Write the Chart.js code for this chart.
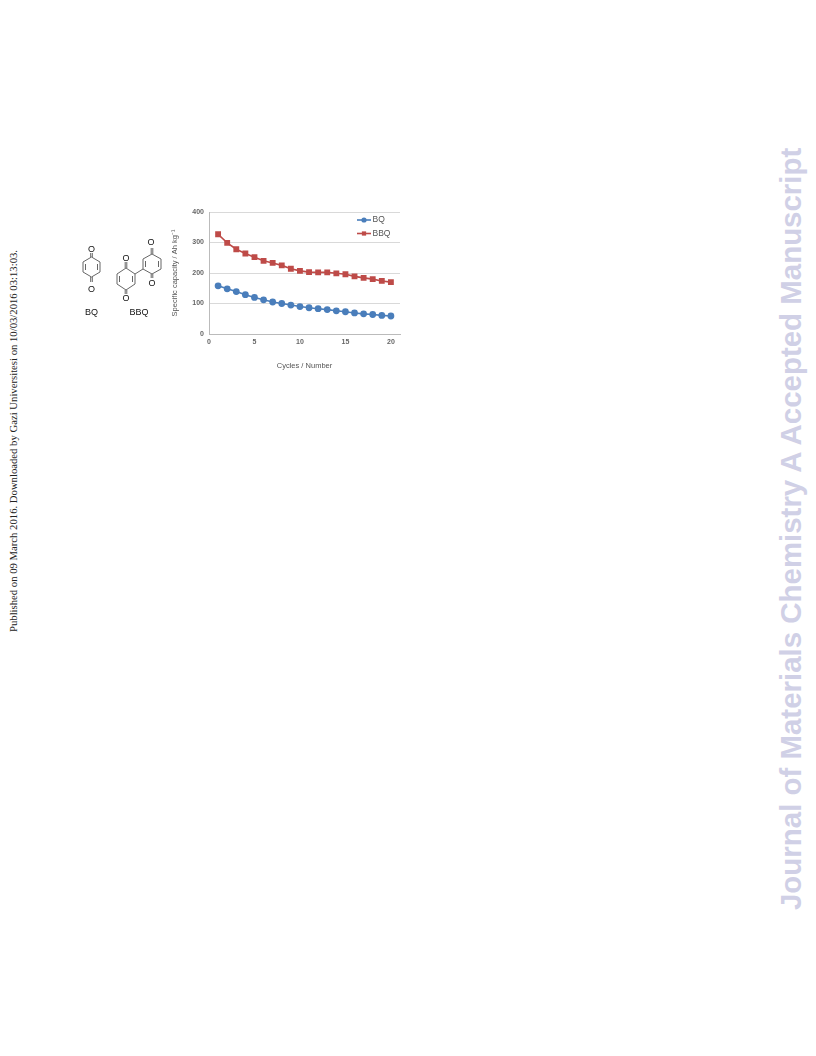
<!DOCTYPE html>
<html>
<head>
<meta charset="utf-8">
<script src="https://cdn.jsdelivr.net/npm/chart.js@4"></script>
<style>
  html, body { margin: 0; padding: 0; background: #fff; }
  body { position: relative; width: 816px; height: 1056px; overflow: hidden; }
  #wrap { position: absolute; left: 170px; top: 200px; width: 240px; height: 170px; filter: blur(0.35px); }
  #capacityChart { display: block; }
  .side { position: absolute; white-space: nowrap; transform-origin: 0 0; transform: rotate(-90deg); }
  #published { left: 7px; top: 632px; font: 10.7px "Liberation Serif", serif; color: #222; }
  #journal { left: 774px; top: 910px; font: bold 29.45px "Liberation Sans", sans-serif; color: #d0d0e6; }
  #mols { position: absolute; left: 70px; top: 230px; filter: blur(0.3px); }
  #mols path, #mols line { fill: none; stroke: #666; stroke-width: 1; }
  #mols text { font: 9px "Liberation Sans", sans-serif; fill: #111; text-anchor: middle; }
</style>
</head>
<body>
<div class="side" id="published">Published on 09 March 2016. Downloaded by Gazi Universitesi on 10/03/2016 03:13:03.</div>
<div class="side" id="journal">Journal of Materials Chemistry A Accepted Manuscript</div>

<svg id="mols" width="100" height="90">
  <path d="M21.5 27 L30 32 V42 L21.5 47 L13 42 V32 Z"/>
  <line x1="27.5" y1="34" x2="27.5" y2="40"/>
  <line x1="15.5" y1="34" x2="15.5" y2="40"/>
  <line x1="20.7" y1="23" x2="20.7" y2="27"/><line x1="22.3" y1="23" x2="22.3" y2="27"/>
  <line x1="20.7" y1="47" x2="20.7" y2="52"/><line x1="22.3" y1="47" x2="22.3" y2="52"/>
  <text x="21.5" y="22">O</text>
  <text x="21.5" y="62">O</text>
  <path d="M56 38 L65 44 V54 L56 60 L47 54 V44 Z"/>
  <line x1="49.5" y1="46" x2="49.5" y2="52"/>
  <line x1="62.5" y1="46" x2="62.5" y2="52"/>
  <line x1="55.2" y1="32" x2="55.2" y2="38"/><line x1="56.8" y1="32" x2="56.8" y2="38"/>
  <line x1="55.2" y1="60" x2="55.2" y2="64"/><line x1="56.8" y1="60" x2="56.8" y2="64"/>
  <text x="56" y="31">O</text>
  <text x="56" y="71">O</text>
  <line x1="65" y1="44" x2="73" y2="39"/>
  <path d="M82 24 L91 29 V39 L82 44 L73 39 V29 Z"/>
  <line x1="75.5" y1="31" x2="75.5" y2="37"/>
  <line x1="88.5" y1="31" x2="88.5" y2="37"/>
  <line x1="81.2" y1="18" x2="81.2" y2="24"/><line x1="82.8" y1="18" x2="82.8" y2="24"/>
  <line x1="81.2" y1="44" x2="81.2" y2="48"/><line x1="82.8" y1="44" x2="82.8" y2="48"/>
  <text x="81" y="15">O</text>
  <text x="82" y="56">O</text>
  <text x="21.5" y="85">BQ</text>
  <text x="69" y="85">BBQ</text>
</svg>

<div id="wrap"><canvas id="capacityChart" width="240" height="170"></canvas></div>

<script>
const cycles = [1,2,3,4,5,6,7,8,9,10,11,12,13,14,15,16,17,18,19,20];
const bq = [158,148,139,129,120,112,105,100,95,90,86,83,80,76,73,69,66,64,61,59];
const bbq = [327,299,278,264,252,240,233,225,214,207,203,202,202,199,196,189,184,180,174,170];
const xTicks = [0,5,10,15,20];

const ctx = document.getElementById('capacityChart').getContext('2d');
new Chart(ctx, {
  type: 'line',
  data: {
    labels: cycles,
    datasets: [
      {
        label: 'BQ',
        data: cycles.map((c, i) => ({ x: c, y: bq[i] })),
        borderColor: '#4a7ebb',
        backgroundColor: '#4a7ebb',
        borderWidth: 1.6,
        pointStyle: 'circle',
        pointRadius: 2.6,
        fill: false
      },
      {
        label: 'BBQ',
        data: cycles.map((c, i) => ({ x: c, y: bbq[i] })),
        borderColor: '#be4b48',
        backgroundColor: '#be4b48',
        borderWidth: 1.6,
        pointStyle: 'rect',
        pointRadius: 3,
        fill: false
      }
    ]
  },
  options: {
    responsive: false,
    animation: false,
    layout: { padding: { left: 0, right: 10, top: 12, bottom: 0 } },
    plugins: {
      legend: { display: false },
      tooltip: { enabled: false }
    },
    scales: {
      x: {
        type: 'linear',
        min: 0,
        max: 21,
        afterBuildTicks: axis => { axis.ticks = xTicks.map(v => ({ value: v })); },
        afterFit: axis => { axis.height = 36; },
        grid: { display: false, drawTicks: false },
        border: { color: '#bbb' },
        ticks: { color: '#666', font: { family: 'Liberation Sans', size: 7, weight: 'bold' }, padding: 4, maxRotation: 0 },
        title: { display: true, text: 'Cycles / Number', color: '#555', font: { family: 'Liberation Sans', size: 7.5 }, padding: { top: 5, bottom: 0 } }
      },
      y: {
        min: 0,
        max: 400,
        afterFit: axis => { axis.width = 39; },
        grid: { color: '#d9d9d9', drawTicks: false },
        border: { color: '#bbb' },
        ticks: { stepSize: 100, color: '#666', font: { family: 'Liberation Sans', size: 7, weight: 'bold' }, padding: 5 },
        title: { display: true, text: 'Specific capacity / Ah kg⁻¹', color: '#555', font: { family: 'Liberation Sans', size: 7.5 }, padding: 0 }
      }
    }
  },
  plugins: [{
    // legend sits inside the plot, top right, so it is drawn by hand from the dataset styles
    id: 'insideLegend',
    afterDraw(chart) {
      const c = chart.ctx;
      const area = chart.chartArea;
      chart.data.datasets.forEach((ds, i) => {
        const y = area.top + 8 + i * 13.5;
        const x0 = area.right - 43;
        c.save();
        c.strokeStyle = ds.borderColor;
        c.fillStyle = ds.backgroundColor;
        c.lineWidth = 1.6;
        c.beginPath(); c.moveTo(x0, y); c.lineTo(x0 + 14, y); c.stroke();
        Chart.helpers.drawPoint(c, { pointStyle: ds.pointStyle, radius: ds.pointRadius, borderWidth: 0 }, x0 + 7, y);
        c.fillStyle = '#555';
        c.font = '8.5px "Liberation Sans"';
        c.textBaseline = 'middle';
        c.fillText(ds.label, x0 + 15.5, y);
        c.restore();
      });
    }
  }]
});
</script>
</body>
</html>
